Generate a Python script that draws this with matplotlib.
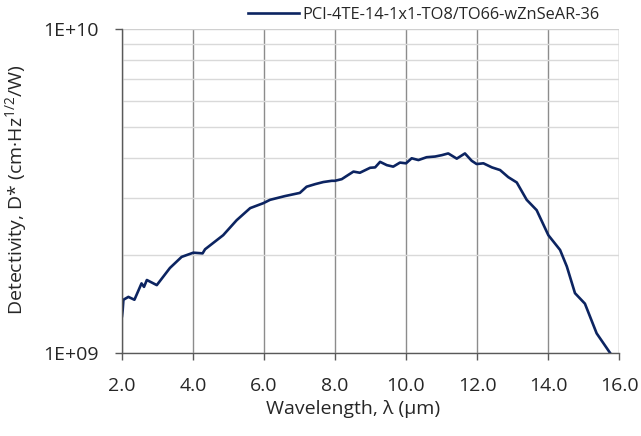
import matplotlib
matplotlib.use("Agg")
import matplotlib.pyplot as plt
from matplotlib.ticker import FixedLocator, NullFormatter, FixedFormatter

plt.rcParams["font.family"] = ["Open Sans", "DejaVu Sans"]
plt.rcParams["mathtext.fontset"] = "custom"
plt.rcParams["mathtext.rm"] = "Open Sans"
plt.rcParams["mathtext.it"] = "Open Sans"

# Spectral detectivity
wavelength = [2.00, 2.02, 2.04, 2.18, 2.35, 2.55, 2.62, 2.70, 2.98, 3.35, 3.68, 4.01, 4.27,
              4.34, 4.85, 5.23, 5.61, 5.98, 6.17, 6.59, 7.01, 7.20, 7.44, 7.67, 7.91,
              8.00, 8.19, 8.33, 8.52, 8.70, 8.99, 9.13, 9.27, 9.46, 9.64, 9.83, 10.00,
              10.16, 10.35, 10.58, 10.82, 11.01, 11.19, 11.43, 11.66, 11.85, 11.99, 12.18,
              12.42, 12.65, 12.88, 13.12, 13.40, 13.68, 14.01, 14.34, 14.53, 14.76, 15.04,
              15.37, 15.75]
detectivity = [1.30e9, 1.36e9, 1.46e9, 1.49e9, 1.46e9, 1.64e9, 1.60e9, 1.68e9, 1.62e9, 1.83e9,
               1.98e9, 2.04e9, 2.03e9, 2.09e9, 2.31e9, 2.57e9, 2.80e9, 2.90e9, 2.97e9,
               3.05e9, 3.12e9, 3.26e9, 3.32e9, 3.37e9, 3.40e9, 3.40e9, 3.44e9, 3.52e9,
               3.63e9, 3.60e9, 3.73e9, 3.74e9, 3.89e9, 3.80e9, 3.76e9, 3.87e9, 3.85e9,
               3.99e9, 3.94e9, 4.02e9, 4.04e9, 4.08e9, 4.13e9, 3.98e9, 4.13e9, 3.92e9,
               3.83e9, 3.85e9, 3.74e9, 3.67e9, 3.49e9, 3.36e9, 2.97e9, 2.76e9, 2.31e9,
               2.08e9, 1.85e9, 1.53e9, 1.42e9, 1.15e9, 1.00e9]
series_label = "PCI-4TE-14-1x1-TO8/TO66-wZnSeAR-36"

x_ticks = [2.0, 4.0, 6.0, 8.0, 10.0, 12.0, 14.0, 16.0]
y_major = [1e9, 1e10]
y_major_labels = ["1E+09", "1E+10"]
y_minor = [2e9, 3e9, 4e9, 5e9, 6e9, 7e9, 8e9, 9e9]

fig = plt.figure(figsize=(6.41, 4.36), dpi=100)
ax = fig.add_axes([122 / 641, 1 - 353 / 436, 497 / 641, 324 / 436])

line_color = "#0c2461"
ax.plot(wavelength, detectivity, color=line_color, lw=1.9, label=series_label,
        solid_joinstyle="round")

ax.set_yscale("log")
ax.set_xlim(2, 16)
ax.set_ylim(1e9, 1e10)

ax.xaxis.set_major_locator(FixedLocator(x_ticks))
ax.set_xticklabels(["%.1f" % v for v in x_ticks])
ax.yaxis.set_major_locator(FixedLocator(y_major))
ax.yaxis.set_major_formatter(FixedFormatter(y_major_labels))
ax.yaxis.set_minor_locator(FixedLocator(y_minor))
ax.yaxis.set_minor_formatter(NullFormatter())

ax.grid(True, axis="x", which="major", color="#8c8c8c", lw=1.0)
ax.grid(True, axis="y", which="major", color="#d0d0d0", lw=1.0)
ax.grid(True, axis="y", which="minor", color="#d9d9d9", lw=1.0)
ax.set_axisbelow(True)

for side in ["top", "right"]:
    ax.spines[side].set_visible(False)
for side in ["left", "bottom"]:
    ax.spines[side].set_color("#595959")
    ax.spines[side].set_linewidth(1.0)

ax.tick_params(axis="both", which="major", direction="out", length=5, width=1.0,
               color="#595959", labelsize=14, labelcolor="#262626", pad=12)
ax.tick_params(axis="y", which="minor", length=0)

ax.set_xlabel("Wavelength, λ (µm)", fontsize=14, color="#262626")
ax.set_ylabel("Detectivity, D* (cm·Hz$^{1/2}$/W)", fontsize=14, color="#262626")
ax.xaxis.set_label_coords((353 - 122) / 497, (353 - 400) / 324)
ax.yaxis.set_label_coords((29 - 122) / 497, (353 - 190) / 324)

fig.legend(loc="center right", bbox_to_anchor=(599 / 641, 1 - 15 / 436), frameon=False,
           fontsize=11.8, handlelength=3.1, handletextpad=0.18, borderpad=0, borderaxespad=0,
           labelcolor="#262626")

fig.savefig("out.png", dpi=100)
